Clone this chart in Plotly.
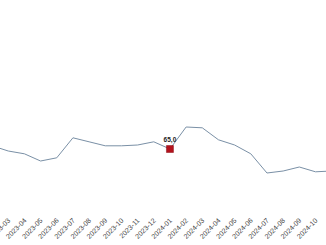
import plotly.graph_objects as go

months = ["2023-02", "2023-03", "2023-04", "2023-05", "2023-06", "2023-07", "2023-08",
          "2023-09", "2023-10", "2023-11", "2023-12", "2024-01", "2024-02", "2024-03",
          "2024-04", "2024-05", "2024-06", "2024-07", "2024-08", "2024-09", "2024-10",
          "2024-11"]
values = [65.8, 64.5, 63.8, 62.0, 62.8, 67.8, 66.8, 65.8, 65.8, 66.0, 66.8, 65.0,
          70.5, 70.3, 67.3, 66.0, 63.8, 59.0, 59.5, 60.5, 59.3, 59.5]
highlight_month = "2024-01"

hi = months.index(highlight_month)
hv = values[hi]

fig = go.Figure()
fig.add_trace(go.Scatter(
    x=months, y=values, mode="lines",
    line=dict(color="#7a90a6", width=1),
    hoverinfo="skip", showlegend=False,
))
fig.add_trace(go.Scatter(
    x=[highlight_month], y=[hv], mode="markers+text",
    marker=dict(symbol="square", size=7, color="#b3121c",
                line=dict(color="#8a0d14", width=0.5)),
    text=["<b>" + f"{hv:.1f}".replace(".", ",") + "</b>"],
    textposition="top center",
    textfont=dict(family="Liberation Sans, Arial", size=6.5, color="#222222"),
    showlegend=False,
))

fig.update_layout(
    width=326, height=245,
    margin=dict(l=0, r=0, t=0, b=31, autoexpand=False),
    paper_bgcolor="white", plot_bgcolor="white",
    xaxis=dict(
        type="category", range=[0.49, 20.65], autorange=False, automargin=False,
        showgrid=False, zeroline=False, showline=False,
        tickangle=-45, ticks="",
        tickfont=dict(family="Liberation Sans, Arial", size=7, color="#444444"),
    ),
    yaxis=dict(
        range=[48.75, 102.25], autorange=False, visible=False, automargin=False,
        showgrid=False, zeroline=False,
    ),
)

fig.write_html("out.html")
